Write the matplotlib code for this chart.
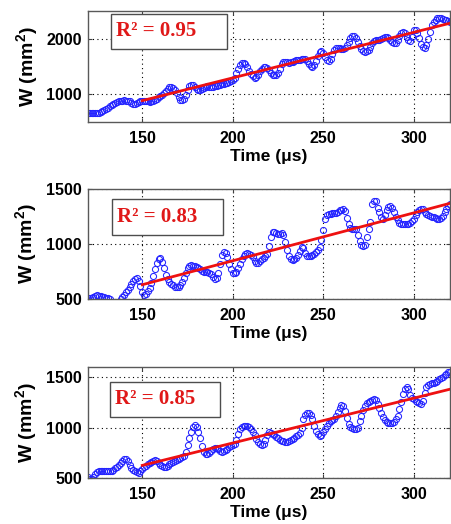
import numpy as np
import matplotlib
matplotlib.use("Agg")
import matplotlib.pyplot as plt
from matplotlib.patches import Rectangle

plt.rcParams["font.family"] = ["Liberation Sans", "DejaVu Sans"]
plt.rcParams["mathtext.fontset"] = "custom"
plt.rcParams["mathtext.rm"] = "Liberation Sans"
plt.rcParams["mathtext.bf"] = "Liberation Sans:bold"

# sample times (one per microsecond, 120..320)
time_us = np.arange(120, 321)

w_top = [
    660, 660, 665, 665, 665, 670, 670, 675, 690, 710,
    740, 760, 785, 800, 820, 840, 860, 870, 880, 885,
    890, 885, 880, 870, 845, 825, 820, 835, 860, 880,
    885, 880, 875, 870, 865, 870, 880, 900, 920, 945,
    965, 990, 1020, 1060, 1100, 1125, 1135, 1120, 1080, 1020,
    950, 900, 890, 920, 990, 1080, 1150, 1170, 1160, 1130,
    1100, 1085, 1080, 1090, 1110, 1130, 1140, 1135, 1125, 1130,
    1140, 1150, 1160, 1170, 1180, 1190, 1200, 1210, 1220, 1230,
    1250, 1300, 1380, 1460, 1520, 1555, 1560, 1540, 1490, 1420,
    1360, 1320, 1300, 1310, 1350, 1410, 1460, 1495, 1500, 1480,
    1440, 1390, 1355, 1340, 1345, 1390, 1460, 1540, 1580, 1590,
    1580, 1570, 1575, 1590, 1605, 1615, 1620, 1625, 1630, 1640,
    1630, 1600, 1550, 1510, 1500, 1530, 1600, 1690, 1760, 1780,
    1750, 1680, 1620, 1605, 1640, 1720, 1800, 1835, 1840, 1830,
    1815, 1810, 1830, 1880, 1950, 2010, 2045, 2050, 2020, 1950,
    1870, 1810, 1780, 1770, 1775, 1800, 1860, 1920, 1955, 1970,
    1975, 1980, 1990, 2010, 2025, 2030, 2015, 1980, 1940, 1920,
    1925, 1970, 2050, 2110, 2130, 2110, 2040, 1970, 1955, 2040,
    2150, 2160, 2110, 2010, 1900, 1845, 1840, 1880, 1990, 2130,
    2240, 2300, 2340, 2365, 2370, 2370, 2360, 2345, 2330, 2320,
    2310,
]

w_mid = [
    505, 505, 510, 520, 528, 532, 530, 525, 520, 518,
    512, 505, 498, 470, 440, 430, 440, 470, 500, 520,
    540, 565, 585, 610, 635, 660, 680, 690, 660, 615,
    560, 540, 545, 570, 600, 650, 710, 770, 830, 860,
    870, 840, 780, 720, 680, 655, 640, 625, 610, 605,
    605, 625, 655, 690, 740, 780, 800, 805, 800, 800,
    795, 785, 770, 755, 745, 745, 745, 740, 730, 700,
    680, 690, 740, 820, 900, 930, 915, 880, 820, 770,
    740, 735, 750, 780, 820, 860, 895, 910, 915, 910,
    900, 880, 850, 825, 830, 845, 860, 875, 890, 910,
    980, 1060, 1110, 1110, 1100, 1090, 1095, 1100, 1080, 1020,
    950, 890, 860, 855, 860, 875, 900, 940, 975, 960,
    920, 895, 890, 895, 900, 910, 925, 945, 975, 1040,
    1130, 1230, 1265, 1270, 1275, 1278, 1280, 1285, 1295, 1305,
    1310, 1315, 1300, 1240, 1185, 1150, 1135, 1140, 1135, 1080,
    1030, 995, 985, 990, 1060, 1140, 1200, 1360, 1395, 1390,
    1330, 1290, 1250, 1225, 1260, 1310, 1335, 1345, 1330, 1290,
    1250, 1215, 1195, 1185, 1180, 1180, 1182, 1185, 1190, 1205,
    1230, 1260, 1290, 1310, 1320, 1315, 1295, 1275, 1262, 1255,
    1250, 1245, 1240, 1230, 1225, 1235, 1255, 1290, 1320, 1345,
    1365,
]

w_bot = [
    505, 495, 490, 510, 535, 555, 565, 570, 572, 572,
    570, 568, 565, 570, 580, 595, 610, 625, 645, 665,
    685, 690, 670, 630, 600, 580, 565, 555, 552, 565,
    590, 605, 620, 635, 650, 662, 670, 675, 665, 645,
    625, 615, 610, 610, 620, 635, 650, 660, 672, 682,
    690, 700, 710, 720, 760, 830, 900, 960, 1010, 1025,
    1010, 960, 900, 820, 760, 740, 740, 750, 770, 790,
    800, 800, 790, 770, 760, 765, 775, 790, 805, 815,
    825, 840, 880, 940, 990, 1010, 1020, 1020, 1015, 1005,
    990, 960, 930, 890, 860, 840, 830, 835, 880, 930,
    955, 950, 940, 925, 910, 895, 880, 870, 862, 858,
    860, 865, 875, 885, 900, 915, 930, 945, 1000, 1080,
    1120, 1140, 1145, 1120, 1080, 1020, 970, 935, 920, 930,
    960, 990, 1020, 1045, 1060, 1075, 1085, 1110, 1150, 1190,
    1220, 1215, 1160, 1090, 1040, 1010, 995, 988, 985, 1000,
    1060, 1110, 1170, 1210, 1240, 1255, 1265, 1275, 1280, 1270,
    1230, 1190, 1140, 1100, 1070, 1055, 1048, 1045, 1048, 1055,
    1080, 1115, 1180, 1250, 1330, 1385, 1400, 1380, 1320, 1295,
    1280, 1265, 1250, 1240, 1232, 1260, 1340, 1400, 1425, 1435,
    1440, 1445, 1448, 1465, 1485, 1495, 1505, 1520, 1535, 1548,
    1555,
]

# linear fits drawn from 150 to 320 us (end values)
fit_t = [150, 320]
fit_top = [885, 2280]
fit_mid = [630, 1370]
fit_bot = [625, 1380]

r2_labels = ["R\u00b2 = 0.95", "R\u00b2 = 0.83", "R\u00b2 = 0.85"]
ylims = [(500, 2500), (500, 1500), (500, 1600)]
yticks = [[1000, 2000], [500, 1000, 1500], [500, 1000, 1500]]
xticks = [150, 200, 250, 300]

W, H = 451, 524
# (top px, bottom px) of each axes, plus R^2 box (x0, y0, x1, y1) in px
axes_px = [(11, 122), (189, 299), (367, 478)]
box_px = [(111, 14, 227, 49), (112, 199, 223, 235), (110, 382, 220, 417)]
left_px, right_px = 88, 450

fig = plt.figure(figsize=(W / 100, H / 100), dpi=100)

series = [(w_top, fit_top), (w_mid, fit_mid), (w_bot, fit_bot)]
for i, (w, fit) in enumerate(series):
    top, bot = axes_px[i]
    ax = fig.add_axes([left_px / W, 1 - bot / H,
                       (right_px - left_px) / W, (bot - top) / H])
    ax.plot(time_us, w, "o", mfc="none", mec="#2424ff", ms=4.4, mew=0.75,
            clip_on=True)
    ax.plot(fit_t, fit, "-", color="#ee1111", lw=2.0)
    ax.set_xlim(120, 320)
    ax.set_ylim(*ylims[i])
    ax.set_xticks(xticks)
    ax.set_yticks(yticks[i])
    ax.grid(True, color="black", linestyle=(0, (1, 3)), linewidth=0.8)
    ax.tick_params(direction="in", length=3, width=0.8, top=True, right=True,
                   labelsize=11.5, colors="0.25", labelcolor="black")
    ax.tick_params(axis="x", pad=6.5)
    ax.tick_params(axis="y", pad=4.5)
    for lab in ax.get_xticklabels() + ax.get_yticklabels():
        lab.set_fontweight("bold")
    for sp in ax.spines.values():
        sp.set_color("0.35")
        sp.set_linewidth(1.0)
    ax.set_xlabel("Time (\u03bcs)", fontsize=12.5, fontweight="bold",
                  labelpad=2)
    ax.set_ylabel(r"W (mm$^{\mathbf{2}}$)", fontsize=14, fontweight="bold",
                  labelpad=4)

    bx0, by0, bx1, by1 = box_px[i]
    ah = bot - top
    aw = right_px - left_px
    rect = Rectangle(((bx0 - left_px) / aw, 1 - (by1 - top) / ah),
                     (bx1 - bx0) / aw, (by1 - by0) / ah,
                     transform=ax.transAxes, facecolor="white",
                     edgecolor="0.3", linewidth=1.0, zorder=5)
    ax.add_patch(rect)
    ax.text((bx0 + 5 - left_px) / aw, 1 - ((by0 + by1) / 2 - top) / ah,
            r2_labels[i], transform=ax.transAxes, ha="left", va="center",
            family=["Liberation Serif", "DejaVu Serif"], fontweight="bold",
            fontsize=15, color="#e01818", zorder=6)

fig.savefig("out.png", dpi=100)
